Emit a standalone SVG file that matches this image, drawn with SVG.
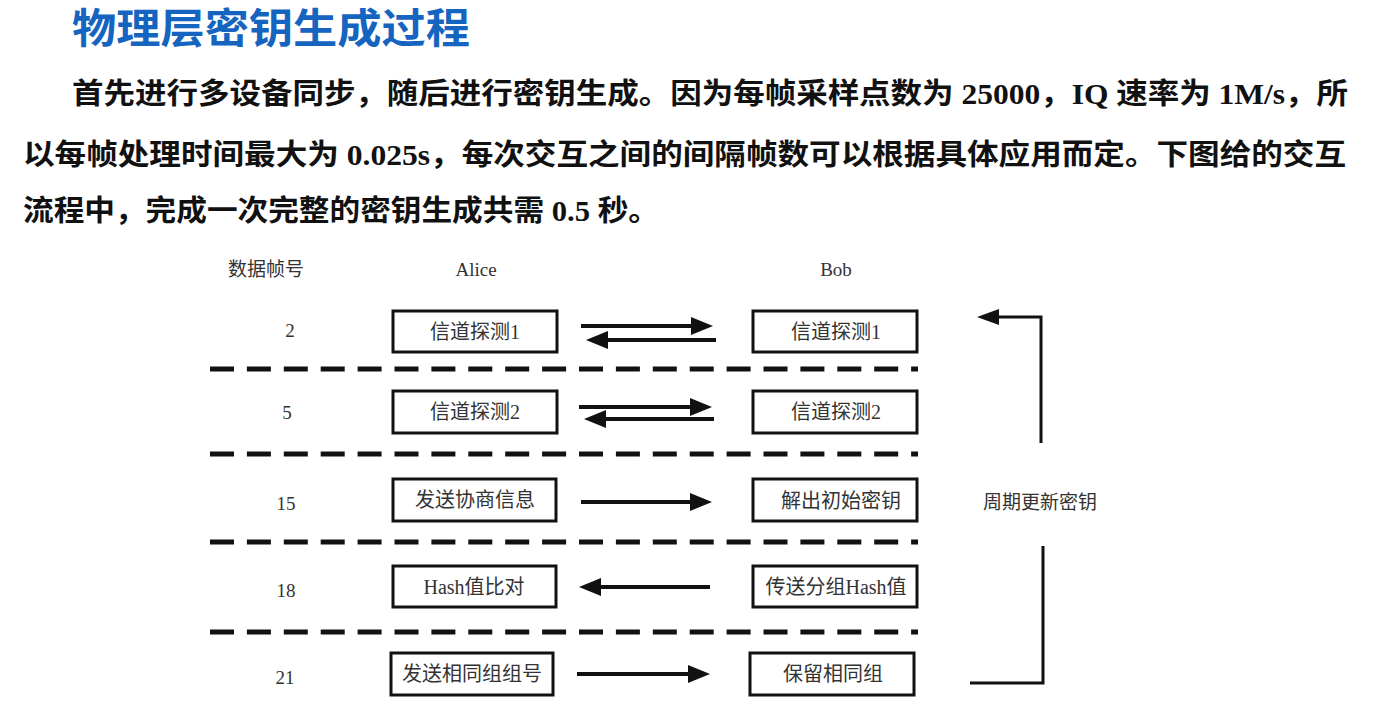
<svg xmlns="http://www.w3.org/2000/svg" width="1378" height="718" viewBox="0 0 1378 718">
<defs>
<style>
.title{font-family:"Noto Sans CJK SC","Noto Sans",sans-serif;font-weight:bold;font-size:41px;fill:#1565c0}
.para{font-family:"Liberation Serif","Noto Sans CJK SC",serif;font-weight:bold;font-size:29px;fill:#111}
.lbl{font-family:"Liberation Serif","Noto Sans CJK SC",serif;font-size:19px;fill:#333}
.box{fill:#fff;stroke:#111;stroke-width:3}
.btxt{font-family:"Liberation Serif","Noto Sans CJK SC",serif;font-size:20px;fill:#333;text-anchor:middle;dominant-baseline:central}
.dash{stroke:#111;stroke-width:5;stroke-dasharray:24 12.9}
.arr{stroke:#111;stroke-width:4;fill:none}
.cyc{stroke:#111;stroke-width:3;fill:none}
</style>
<marker id="ah" viewBox="0 0 22 18" refX="2" refY="9" markerWidth="22" markerHeight="18" markerUnits="userSpaceOnUse" orient="auto">
<path d="M0,0 L22,9 L0,18 z" fill="#111"/>
</marker>
<marker id="ah2" viewBox="0 0 22 16" refX="2" refY="8" markerWidth="22" markerHeight="16" markerUnits="userSpaceOnUse" orient="auto">
<path d="M0,0 L22,8 L0,16 z" fill="#111"/>
</marker>
</defs>
<rect width="1378" height="718" fill="#fff"/>

<text class="title" x="72" y="43" textLength="398" lengthAdjust="spacingAndGlyphs">物理层密钥生成过程</text>
<text class="para" x="72" y="104" textLength="1276" lengthAdjust="spacingAndGlyphs">首先进行多设备同步，随后进行密钥生成。因为每帧采样点数为 25000，IQ 速率为 1M/s，所</text>
<text class="para" x="23" y="165" textLength="1323" lengthAdjust="spacingAndGlyphs">以每帧处理时间最大为 0.025s，每次交互之间的间隔帧数可以根据具体应用而定。下图给的交互</text>
<text class="para" x="23" y="221" textLength="636" lengthAdjust="spacingAndGlyphs">流程中，完成一次完整的密钥生成共需 0.5 秒。</text>

<g id="header">
<text class="lbl" x="228" y="276">数据帧号</text>
<text class="lbl" x="476" y="276" text-anchor="middle">Alice</text>
<text class="lbl" x="836" y="276" text-anchor="middle">Bob</text>
</g>

<g id="frames">
<text class="lbl" x="290" y="337" text-anchor="middle">2</text>
<text class="lbl" x="287" y="419" text-anchor="middle">5</text>
<text class="lbl" x="286" y="510" text-anchor="middle">15</text>
<text class="lbl" x="286" y="597" text-anchor="middle">18</text>
<text class="lbl" x="285" y="684" text-anchor="middle">21</text>
</g>

<g id="separators">
<line class="dash" x1="210" y1="369" x2="918" y2="369"/>
<line class="dash" x1="210" y1="454" x2="918" y2="454"/>
<line class="dash" x1="210" y1="542" x2="918" y2="542"/>
<line class="dash" x1="210" y1="632" x2="918" y2="632"/>
</g>

<g id="alice1"><rect class="box" x="393" y="311" width="164" height="41"/><text class="btxt" x="475" y="332">信道探测1</text></g>
<g id="alice2"><rect class="box" x="393" y="391" width="164" height="42"/><text class="btxt" x="475" y="412">信道探测2</text></g>
<g id="alice3"><rect class="box" x="393" y="479" width="163" height="42"/><text class="btxt" x="475" y="500">发送协商信息</text></g>
<g id="alice4"><rect class="box" x="393" y="566" width="163" height="41"/><text class="btxt" x="474" y="587">Hash值比对</text></g>
<g id="alice5"><rect class="box" x="391" y="653" width="162" height="42"/><text class="btxt" x="472" y="674">发送相同组组号</text></g>

<g id="bob1"><rect class="box" x="753" y="311" width="164" height="41"/><text class="btxt" x="836" y="332">信道探测1</text></g>
<g id="bob2"><rect class="box" x="753" y="391" width="164" height="42"/><text class="btxt" x="836" y="412">信道探测2</text></g>
<g id="bob3"><rect class="box" x="753" y="479" width="164" height="42"/><text class="btxt" x="841" y="501">解出初始密钥</text></g>
<g id="bob4"><rect class="box" x="753" y="566" width="164" height="41"/><text class="btxt" x="836" y="587">传送分组Hash值</text></g>
<g id="bob5"><rect class="box" x="750" y="653" width="164" height="42"/><text class="btxt" x="833" y="674">保留相同组</text></g>

<g id="cycle-label"><text class="lbl" x="983" y="509">周期更新密钥</text></g>

<g id="connectors">
<line class="arr" x1="581" y1="326" x2="693" y2="326" marker-end="url(#ah)"/>
<line class="arr" x1="716" y1="340" x2="606" y2="340" marker-end="url(#ah)"/>
<line class="arr" x1="579" y1="407" x2="692" y2="407" marker-end="url(#ah)"/>
<line class="arr" x1="714" y1="419" x2="604" y2="419" marker-end="url(#ah)"/>
<line class="arr" x1="581" y1="502" x2="692" y2="502" marker-end="url(#ah)"/>
<line class="arr" x1="710" y1="587" x2="599" y2="587" marker-end="url(#ah)"/>
<line class="arr" x1="577" y1="674" x2="690" y2="674" marker-end="url(#ah)"/>
<path class="cyc" d="M1041,443 V317 H997" marker-end="url(#ah2)"/>
<path class="cyc" d="M1043,546 V683 H970"/>
</g>
</svg>
